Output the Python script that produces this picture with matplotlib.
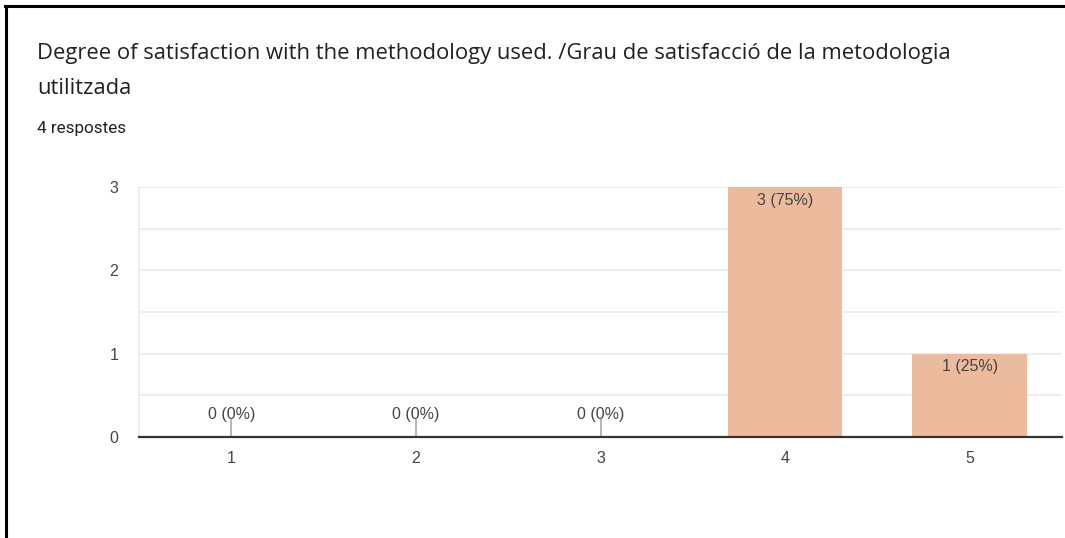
import matplotlib

matplotlib.use("Agg")

import matplotlib.pyplot as plt
from matplotlib.lines import Line2D

categories = ["1", "2", "3", "4", "5"]
counts = [0, 0, 0, 3, 1]
total = 4

title_lines = [
    "Degree of satisfaction with the methodology used. /Grau de satisfacció de la metodologia",
    "utilitzada",
]
subtitle = f"{total} respostes"

BAR_COLOR = "#ecbb9d"
GRID_COLOR = "#ebebeb"
TEXT_COLOR = "#444444"
LABEL_FONT = ["Liberation Sans", "DejaVu Sans"]

plt.rcParams["font.family"] = ["Roboto", "DejaVu Sans"]

fig = plt.figure(figsize=(10.65, 5.38), dpi=100)
fig.patch.set_facecolor("white")

# screenshot frame (top and left black edges)
fig.add_artist(Line2D([5 / 1065, 1], [1 - 6 / 538, 1 - 6 / 538], color="black", linewidth=2.2,
                      transform=fig.transFigure))
fig.add_artist(Line2D([6 / 1065, 6 / 1065], [0, 1 - 6 / 538], color="black", linewidth=2.2,
                      transform=fig.transFigure))

for i, line in enumerate(title_lines):
    fig.text(37 / 1065, 1 - (54 + 34 * i) / 538, line, fontsize=15.8, color="#202124",
             family=["Open Sans", "DejaVu Sans"], va="center", ha="left")
fig.text(37 / 1065, 1 - 128 / 538, subtitle, fontsize=12.3, color="#202124", va="center", ha="left")

ax = fig.add_axes([139 / 1065, 101 / 538, 923 / 1065, 250 / 538])
x = list(range(1, len(categories) + 1))
ax.bar(x, counts, width=0.62, color=BAR_COLOR, zorder=2)

for xi, c in zip(x, counts):
    label = f"{c} ({c / total:.0%})"
    if c > 0:
        ax.annotate(label, (xi, c), xytext=(0, -4), textcoords="offset points", family=LABEL_FONT,
                    ha="center", va="top", fontsize=11.5, color=TEXT_COLOR, zorder=3)
    else:
        ax.plot([xi, xi], [0, 0.2], color="#aaaaaa", linewidth=1.2, zorder=2)
        ax.annotate(label, (xi, 0), xytext=(0, 11), textcoords="offset points", family=LABEL_FONT,
                    ha="center", va="bottom", fontsize=11.5, color=TEXT_COLOR, zorder=3)

ax.set_xlim(0.5, len(categories) + 0.5)
ax.set_ylim(0, 3)
ax.set_xticks(x)
ax.set_xticklabels(categories, family=LABEL_FONT)
ax.set_yticks([0, 1, 2, 3])
ax.set_yticklabels(["0", "1", "2", "3"], family=LABEL_FONT)
ax.set_yticks([0.5, 1.5, 2.5], minor=True)
ax.tick_params(axis="both", which="both", length=0, labelsize=11.5, colors=TEXT_COLOR)
ax.tick_params(axis="x", pad=10)
ax.tick_params(axis="y", pad=15)
ax.grid(axis="y", which="both", color=GRID_COLOR, linewidth=1.2, zorder=0)

for spine in ("top", "right"):
    ax.spines[spine].set_visible(False)
ax.spines["left"].set_color(GRID_COLOR)
ax.spines["left"].set_linewidth(1.2)
ax.spines["bottom"].set_color("#333333")
ax.spines["bottom"].set_linewidth(1.6)
ax.spines["bottom"].set_zorder(4)

fig.savefig("out.png", dpi=100, facecolor="white")
